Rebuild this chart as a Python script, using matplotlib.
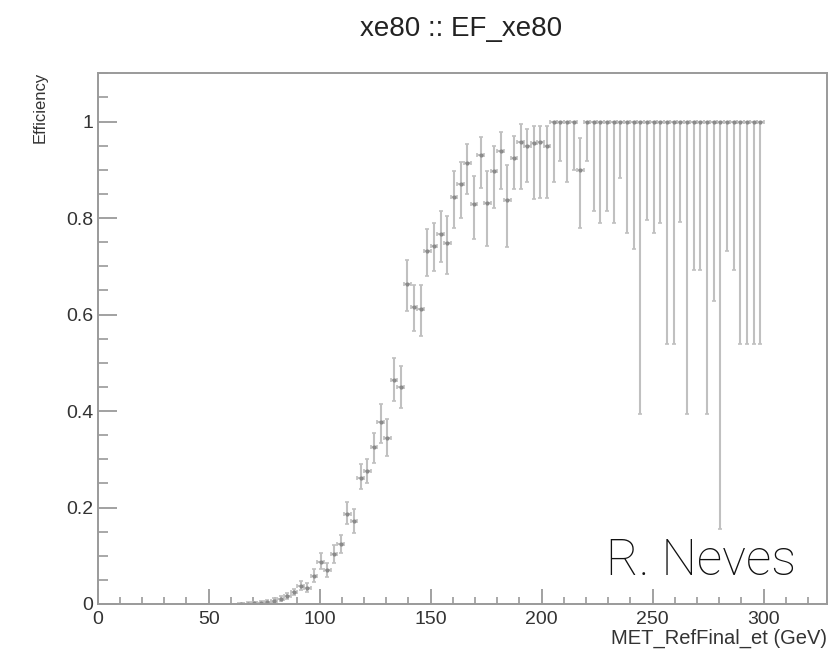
import numpy as np
import matplotlib.pyplot as plt
from matplotlib.ticker import MultipleLocator

# efficiency per 3 GeV bin of MET_RefFinal_et (bins with entries only)
bin_width = 3.0
met = np.arange(64.5, 299.0, bin_width)

eff = [0.000, 0.001, 0.002, 0.003, 0.005, 0.007, 0.011, 0.016, 0.024, 0.037,
       0.033, 0.058, 0.088, 0.070, 0.104, 0.124, 0.187, 0.172, 0.262, 0.275,
       0.325, 0.378, 0.345, 0.465, 0.450, 0.664, 0.616, 0.612, 0.732, 0.743,
       0.766, 0.749, 0.844, 0.871, 0.915, 0.830, 0.931, 0.832, 0.898, 0.938,
       0.838, 0.925, 0.957, 0.950, 0.955, 0.957, 0.950, 1.0, 1.0, 1.0,
       1.0, 0.900] + [1.0] * 27

err_up = [0.003, 0.003, 0.003, 0.004, 0.004, 0.005, 0.006, 0.007, 0.008, 0.011,
          0.011, 0.014, 0.018, 0.016, 0.018, 0.018, 0.024, 0.025, 0.028, 0.025,
          0.030, 0.037, 0.039, 0.045, 0.044, 0.048, 0.045, 0.050, 0.046, 0.047,
          0.049, 0.056, 0.054, 0.045, 0.039, 0.058, 0.036, 0.066, 0.052, 0.041,
          0.071, 0.045, 0.037, 0.035, 0.035, 0.033, 0.040, 0.0, 0.0, 0.0,
          0.0, 0.065] + [0.0] * 27

err_down = [0.000, 0.001, 0.002, 0.002, 0.003, 0.003, 0.004, 0.005, 0.006, 0.009,
            0.009, 0.012, 0.016, 0.014, 0.020, 0.019, 0.022, 0.025, 0.024, 0.025,
            0.032, 0.044, 0.038, 0.045, 0.043, 0.056, 0.050, 0.057, 0.052, 0.053,
            0.058, 0.064, 0.064, 0.071, 0.065, 0.073, 0.068, 0.089, 0.078, 0.077,
            0.099, 0.065, 0.096, 0.076, 0.115, 0.115, 0.108, 0.126, 0.081, 0.126,
            0.100, 0.120,
            0.081, 0.185, 0.210, 0.185, 0.210, 0.116, 0.232, 0.264, 0.606, 0.205,
            0.232, 0.210, 0.461, 0.461, 0.209, 0.606, 0.308, 0.308, 0.606, 0.371,
            0.844, 0.268, 0.308, 0.461, 0.461, 0.461, 0.461]

plt.rcParams['font.family'] = ['Liberation Sans', 'DejaVu Sans']

fig = plt.figure(figsize=(8.4, 6.51), dpi=100)
ax = fig.add_axes([0.1163, 0.0722, 0.868, 0.8152])

ax.errorbar(met, eff, xerr=bin_width / 2, yerr=[err_down, err_up],
            fmt='o', ms=2.0, mfc='#8a8a8a', mec='#8a8a8a',
            ecolor='#c0c0c0', elinewidth=1.5, capsize=1.5, capthick=1.2)

ax.set_xlim(0, 328.5)
ax.set_ylim(0, 1.1)

ax.xaxis.set_major_locator(MultipleLocator(50))
ax.xaxis.set_minor_locator(MultipleLocator(10))
ax.yaxis.set_major_locator(MultipleLocator(0.2))
ax.yaxis.set_minor_locator(MultipleLocator(0.05))
ax.set_xticks([0, 50, 100, 150, 200, 250, 300])
ax.set_xticklabels(['0', '50', '100', '150', '200', '250', '300'])
ax.set_yticks([0, 0.2, 0.4, 0.6, 0.8, 1.0])
ax.set_yticklabels(['0', '0.2', '0.4', '0.6', '0.8', '1'])

ax.tick_params(axis='both', which='both', direction='in', colors='#9a9a9a',
               labelcolor='#333333', labelsize=14, top=False, right=False)
ax.tick_params(axis='x', which='major', length=11, width=1.3, pad=5)
ax.tick_params(axis='x', which='minor', length=5, width=1.2)
ax.tick_params(axis='y', which='major', length=14, width=1.3, pad=3)
ax.tick_params(axis='y', which='minor', length=7, width=1.2)

for s in ax.spines.values():
    s.set_color('#9a9a9a')
    s.set_linewidth(1.4)

fig.text(0.549, 0.955, 'xe80 :: EF_xe80', ha='center', va='center',
         fontsize=20, color='#222222')
fig.text(0.985, 0.02, 'MET_RefFinal_et (GeV)', ha='right', va='center',
         fontsize=14.5, color='#333333')
fig.text(0.048, 0.89, 'Efficiency', ha='center', va='top', rotation=90,
         fontsize=12, color='#333333')
fig.text(0.722, 0.117, 'R. Neves', ha='left', va='baseline',
         fontsize=36, family=['Roboto', 'DejaVu Sans'], weight='light',
         color='#111111')

fig.savefig('out.png', dpi=100)
